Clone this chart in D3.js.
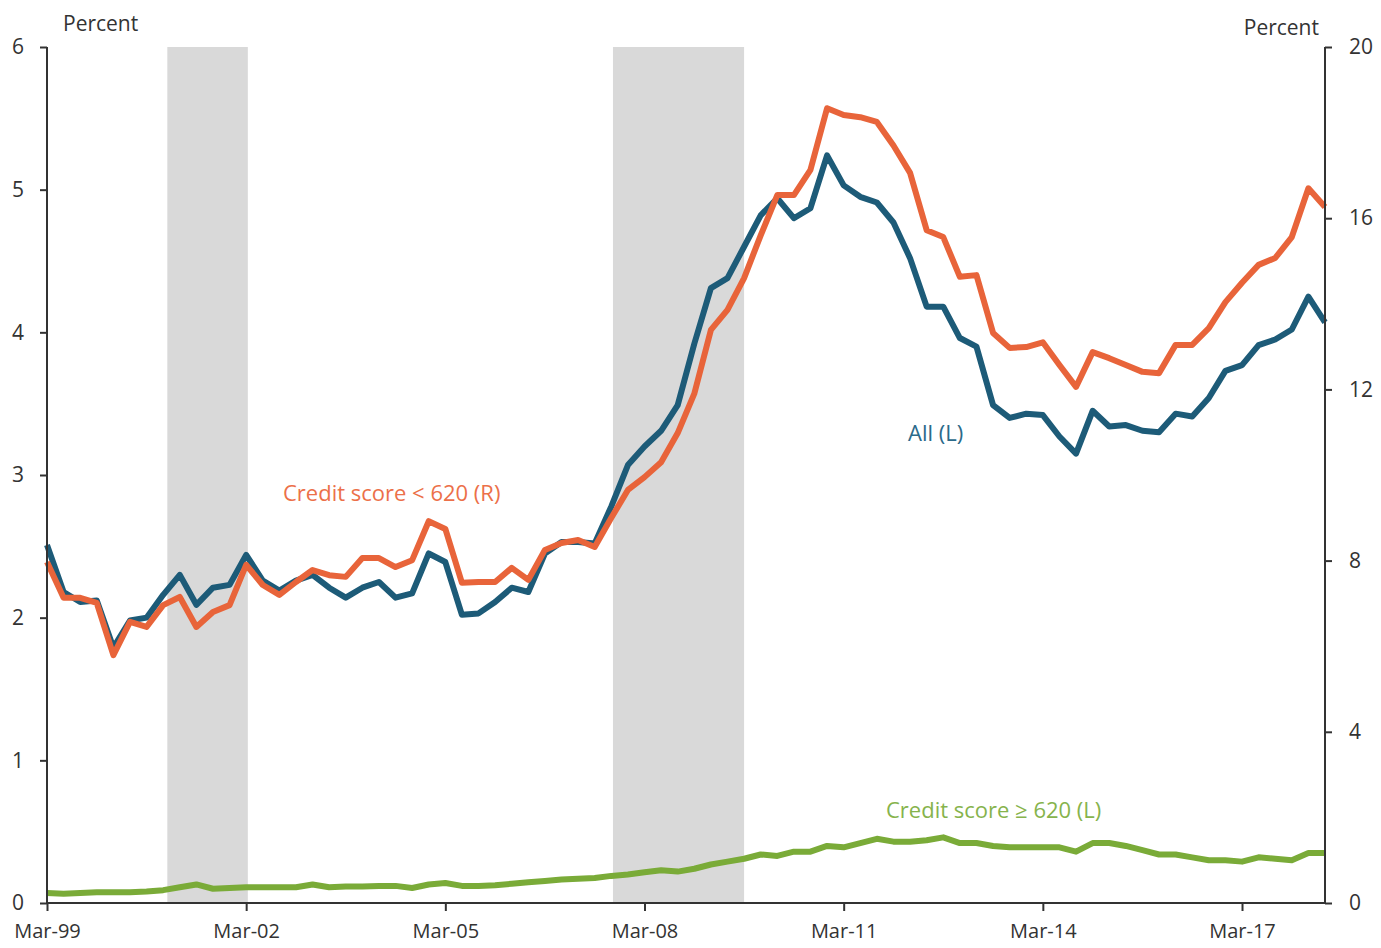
<!DOCTYPE html>
<html>
<head>
<meta charset="utf-8">
<script src="https://cdn.jsdelivr.net/npm/d3@7"></script>
<style>
  html, body { margin: 0; padding: 0; background: #fff; }
  svg { display: block; }
  text { font-family: "Open Sans", "Lato", "DejaVu Sans", sans-serif; }
</style>
</head>
<body>
<svg id="chart" width="1381" height="948"></svg>
<script>
// ---- Data (quarterly, Mar-99 .. Jun-18) ----
const years = d3.range(1999, 2019);
const quarters = [];
years.forEach(y => ["Mar", "Jun", "Sep", "Dec"].forEach(m => quarters.push(m + "-" + String(y).slice(2))));
const dates = quarters.slice(0, 78);

const allL = [2.51, 2.18, 2.11, 2.12, 1.79, 1.98, 2.00, 2.16, 2.30, 2.09,
  2.21, 2.23, 2.44, 2.26, 2.19, 2.26, 2.30, 2.21, 2.14, 2.21,
  2.25, 2.14, 2.17, 2.45, 2.39, 2.02, 2.03, 2.11, 2.21, 2.18,
  2.45, 2.53, 2.53, 2.52, 2.78, 3.07, 3.20, 3.31, 3.49, 3.92,
  4.31, 4.38, 4.60, 4.82, 4.94, 4.80, 4.87, 5.24, 5.03, 4.95,
  4.91, 4.77, 4.52, 4.18, 4.18, 3.96, 3.90, 3.49, 3.40, 3.43,
  3.42, 3.27, 3.15, 3.45, 3.34, 3.35, 3.31, 3.30, 3.43, 3.41,
  3.54, 3.73, 3.77, 3.91, 3.95, 4.02, 4.25, 4.07];

const subprimeR = [7.97, 7.13, 7.13, 7.01, 5.79, 6.57, 6.45, 6.96, 7.15, 6.45,
  6.80, 6.96, 7.90, 7.43, 7.20, 7.50, 7.78, 7.66, 7.62, 8.06,
  8.06, 7.85, 8.01, 8.92, 8.74, 7.48, 7.50, 7.50, 7.83, 7.55,
  8.25, 8.41, 8.48, 8.32, 9.00, 9.65, 9.95, 10.30, 10.98, 11.90,
  13.39, 13.86, 14.60, 15.60, 16.54, 16.54, 17.13, 18.57, 18.41, 18.36,
  18.25, 17.70, 17.06, 15.72, 15.56, 14.63, 14.67, 13.32, 12.97, 12.99,
  13.10, 12.57, 12.06, 12.87, 12.73, 12.57, 12.41, 12.38, 13.04, 13.04,
  13.43, 14.04, 14.49, 14.91, 15.07, 15.56, 16.70, 16.26];

const primeL = [0.07, 0.065, 0.07, 0.075, 0.075, 0.075, 0.08, 0.09, 0.11, 0.13,
  0.10, 0.105, 0.11, 0.11, 0.11, 0.11, 0.13, 0.11, 0.115, 0.115,
  0.12, 0.12, 0.105, 0.13, 0.14, 0.12, 0.12, 0.125, 0.135, 0.145,
  0.155, 0.165, 0.17, 0.175, 0.19, 0.20, 0.215, 0.23, 0.22, 0.24,
  0.27, 0.29, 0.31, 0.34, 0.33, 0.36, 0.36, 0.40, 0.39, 0.42,
  0.45, 0.43, 0.43, 0.44, 0.46, 0.42, 0.42, 0.40, 0.39, 0.39,
  0.39, 0.39, 0.36, 0.42, 0.42, 0.40, 0.37, 0.34, 0.34, 0.32,
  0.30, 0.30, 0.29, 0.32, 0.31, 0.30, 0.35, 0.35];

// recession periods, in quarter index units
const recessionStart = [7.25, 34.1];
const recessionEnd = [12.1, 42.0];

const xTickLabels = ["Mar-99", "Mar-02", "Mar-05", "Mar-08", "Mar-11", "Mar-14", "Mar-17"];
const leftTicks = [0, 1, 2, 3, 4, 5, 6];
const rightTicks = [0, 4, 8, 12, 16, 20];

// ---- Layout ----
const svg = d3.select("#chart");
const mLeft = 47, mRight = 1325, mTop = 47, mBottom = 903;

const x = d3.scaleLinear().domain([0, dates.length - 1]).range([mLeft, mRight]);
const yL = d3.scaleLinear().domain([0, 6]).range([mBottom, mTop]);
const yR = d3.scaleLinear().domain([0, 20]).range([mBottom, mTop]);

const axisColor = "#333333";
const textColor = "#333333";

// Recession shading
svg.append("g").selectAll("rect")
  .data(recessionStart.map((s, i) => [s, recessionEnd[i]]))
  .join("rect")
  .attr("x", d => x(d[0]))
  .attr("width", d => x(d[1]) - x(d[0]))
  .attr("y", yL(6))
  .attr("height", yL(0) - yL(6))
  .attr("fill", "#d9d9d9");

// Lines
const idx = d3.range(dates.length);
const lineL = arr => d3.line().x(i => x(i)).y(i => yL(arr[i]))(idx);
const lineR = arr => d3.line().x(i => x(i)).y(i => yR(arr[i]))(idx);

svg.append("path").attr("d", lineL(primeL))
  .attr("fill", "none").attr("stroke", "#7aab38").attr("stroke-width", 6).attr("stroke-linejoin", "round");
svg.append("path").attr("d", lineL(allL))
  .attr("fill", "none").attr("stroke", "#1d5b78").attr("stroke-width", 6).attr("stroke-linejoin", "round");
svg.append("path").attr("d", lineR(subprimeR))
  .attr("fill", "none").attr("stroke", "#e8643a").attr("stroke-width", 6).attr("stroke-linejoin", "round");

// Axes
const fontSize = "21px";
const gL = svg.append("g").attr("transform", `translate(${mLeft},0)`)
  .call(d3.axisLeft(yL).tickValues(leftTicks).tickSize(7).tickPadding(16).tickFormat(d3.format("d")));
const gR = svg.append("g").attr("transform", `translate(${mRight},0)`)
  .call(d3.axisRight(yR).tickValues(rightTicks).tickSize(7).tickPadding(17).tickFormat(d3.format("d")));
const xTickIdx = xTickLabels.map(l => dates.indexOf(l));
const gX = svg.append("g").attr("transform", `translate(0,${mBottom})`)
  .call(d3.axisBottom(x).tickValues(xTickIdx).tickSize(8).tickPadding(13)
    .tickFormat(i => dates[i]));

[gL, gR, gX].forEach(g => {
  g.select(".domain").attr("stroke", axisColor).attr("stroke-width", 2);
  g.selectAll(".tick line").attr("stroke", axisColor).attr("stroke-width", 2);
  g.selectAll(".tick text").attr("fill", textColor).style("font-size", fontSize)
    .style("font-family", "'Open Sans', Lato, sans-serif");
});
gX.selectAll(".tick text").style("font-size", "20px");
gX.select(".domain").attr("d", `M${mLeft},0H${mRight}`);
gL.select(".domain").attr("d", `M0,${yL(0)}V${yL(6)}`);
gR.select(".domain").attr("d", `M0,${yR(0)}V${yR(20)}`);

// Axis titles
svg.append("text").attr("x", 63).attr("y", 31).text("Percent")
  .attr("fill", textColor).style("font-size", fontSize);
svg.append("text").attr("x", 1319).attr("y", 35).attr("text-anchor", "end").text("Percent")
  .attr("fill", textColor).style("font-size", fontSize);

// Series labels
const labelSize = "22px";
svg.append("text").attr("x", 283).attr("y", 501).text("Credit score < 620 (R)")
  .attr("fill", "#ec7049").style("font-size", labelSize);
svg.append("text").attr("x", 908).attr("y", 441).text("All (L)")
  .attr("fill", "#2b6a8a").style("font-size", labelSize);
svg.append("text").attr("x", 886).attr("y", 818).text("Credit score \u2265 620 (L)")
  .attr("fill", "#86b34c").style("font-size", labelSize);
</script>
</body>
</html>
